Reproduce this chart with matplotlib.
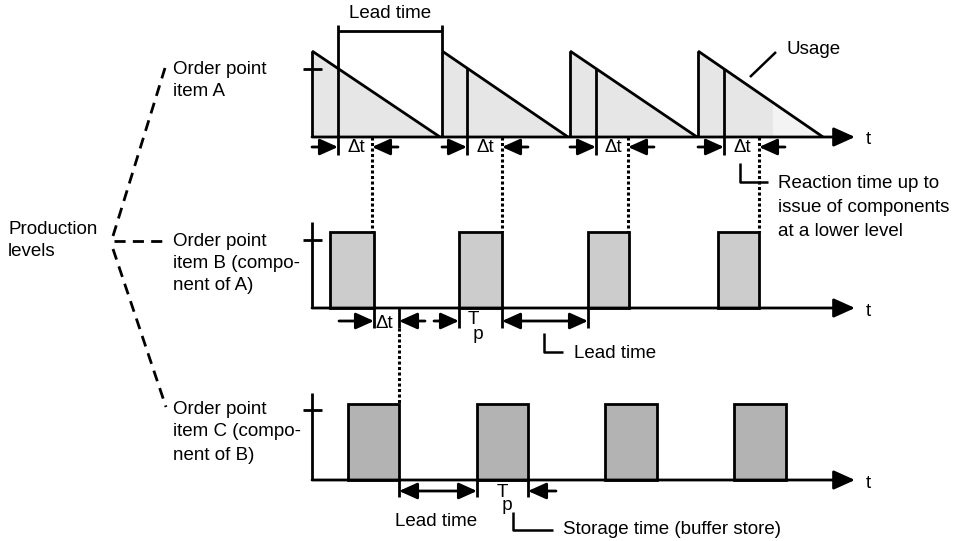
import matplotlib
matplotlib.use("Agg")
import matplotlib.pyplot as plt
from matplotlib.patches import Polygon, Rectangle

plt.rcParams['font.family'] = ['Liberation Sans', 'DejaVu Sans']

# ---- diagram values (time positions along the t axis, in drawing units) ----
A_refill = [312, 442, 570, 698]      # replenishment of item A (sawtooth peaks)
A_empty = [440, 568, 697, 823]       # stock of A reaches zero
A_order = [338, 467, 596, 724]       # order point of item A reached
A_release = [372, 502, 628, 759]     # issue of components (after reaction time)
A_fade = 773                         # last cycle fades beyond this time
B_start = [330, 459, 588, 718]       # item B production start
B_end = [374, 502, 629, 759]         # item B production end
C_start = [348, 477, 605, 734]       # item C production start
C_end = [399, 528, 657, 786]         # item C production end

level_base = [137, 308, 480]         # baselines of levels A, B, C
level_top = [51, 222, 393]           # top of vertical axis per level
order_point = [69, 240, 410]         # order point tick per level
bar_top = [232, 404]                 # top of B and C bars
axis_left = 312
axis_tip = 855

LW = 2.0
FS = 13.5
light = '#e6e6e6'
fillB = '#cccccc'
fillC = '#b3b3b3'

fig = plt.figure(figsize=(9.67, 5.41), dpi=100)
ax = fig.add_axes([0, 0, 1, 1])
ax.set_xlim(0, 967)
ax.set_ylim(541, 0)
ax.axis('off')


def line(xs, ys, **kw):
    d = dict(color='black', lw=LW, solid_capstyle='butt')
    d.update(kw)
    ax.plot(xs, ys, **d)


def arrow(x0, y0, x1, y1, style='-|>', ms=11):
    ax.annotate('', xy=(x1, y1), xytext=(x0, y0),
                arrowprops=dict(arrowstyle=style + ',head_length=1.0,head_width=0.45',
                                mutation_scale=ms, lw=LW, color='black',
                                shrinkA=0, shrinkB=0))


def text(x, y, s, **kw):
    d = dict(fontsize=FS, va='center', ha='left', color='black')
    d.update(kw)
    ax.text(x, y, s, **d)


def dotted(x, y0, y1):
    ax.plot([x, x], [y0, y1], color='black', lw=2.2, linestyle=(0, (1, 0.8)))


# ---------------- Level A (sawtooth) ----------------
base = level_base[0]
peak = level_top[0]
for i, (x0, x1) in enumerate(zip(A_refill, A_empty)):
    if i == len(A_refill) - 1:
        yf = peak + (base - peak) * (A_fade - x0) / (x1 - x0)
        ax.add_patch(Polygon([(x0, base), (x0, peak), (A_fade, yf), (A_fade, base)],
                             closed=True, facecolor=light, edgecolor='none'))
        ax.add_patch(Polygon([(A_fade, base), (A_fade, yf), (x1, base)],
                             closed=True, facecolor='#f3f3f3', edgecolor='none'))
    else:
        ax.add_patch(Polygon([(x0, base), (x0, peak), (x1, base)], closed=True,
                             facecolor=light, edgecolor='none'))
    line([x0, x0], [base, peak])
    line([x0, x1], [peak, base])
    xo = A_order[i]
    yo = peak + (base - peak) * (xo - x0) / (x1 - x0)
    top = 25 if i == 0 else yo
    line([xo, xo], [top, 155])

# lead time bracket
line([A_order[0], A_refill[1]], [31, 31])
line([A_refill[1], A_refill[1]], [25, peak])
text((A_order[0] + A_refill[1]) / 2, 13, 'Lead time', ha='center')

# axis + order point tick
line([axis_left - 9, axis_left + 10], [order_point[0], order_point[0]])
arrow(axis_left, base, axis_tip, base, ms=13)
text(866, base + 2, 't')

# Δt annotations
for i in range(4):
    arrow(A_refill[i], 147, A_order[i], 147)
    arrow(A_release[i] + 26, 147, A_release[i], 147)
    text((A_order[i] + A_release[i]) / 2 + 1, 147, 'Δt', ha='center')
    dotted(A_release[i], base, bar_top[0])

# Usage
line([750, 776], [77, 52], lw=1.8)
text(786, 50, 'Usage')

# Reaction time
line([740, 740, 768], [163, 182, 182], lw=1.8)
text(778, 183, 'Reaction time up to')
text(778, 207, 'issue of components')
text(778, 231, 'at a lower level')

# ---------------- Level B ----------------
base = level_base[1]
for x0, x1 in zip(B_start, B_end):
    ax.add_patch(Rectangle((x0, bar_top[0]), x1 - x0, base - bar_top[0],
                           facecolor=fillB, edgecolor='black', lw=LW))
line([axis_left, axis_left], [level_top[1], base])
line([axis_left - 9, axis_left + 10], [order_point[1], order_point[1]])
arrow(axis_left, base, axis_tip, base, ms=13)
text(866, base + 4, 't')

yB = 321
line([B_end[0], B_end[0]], [base, 328])
arrow(B_end[0] - 35, yB, B_end[0], yB)
text(B_end[0] + 10, 323, 'Δt', ha='center')
line([C_end[0], C_end[0]], [base, 328])
dotted(C_end[0], 328, bar_top[1])
arrow(C_end[0] + 26, yB, C_end[0], yB)
arrow(B_start[1] - 25, yB, B_start[1], yB)
line([B_start[1], B_start[1]], [base, 328])
text(468, 327, 'T\n p', linespacing=0.78)
line([B_end[1], B_end[1]], [base, 328])
line([B_start[2], B_start[2]], [base, 328])
arrow(B_end[1], yB, B_start[2], yB, style='<|-|>')
line([544, 544, 563], [333, 352, 352], lw=1.8)
text(574, 353, 'Lead time')

# ---------------- Level C ----------------
base = level_base[2]
for x0, x1 in zip(C_start, C_end):
    ax.add_patch(Rectangle((x0, bar_top[1]), x1 - x0, base - bar_top[1],
                           facecolor=fillC, edgecolor='black', lw=LW))
line([axis_left, axis_left], [level_top[2], base])
line([axis_left - 9, axis_left + 10], [order_point[2], order_point[2]])
arrow(axis_left, base, axis_tip, base, ms=13)
text(866, base + 4, 't')

yC = 491
line([C_end[0], C_end[0]], [base, 497])
line([C_start[1], C_start[1]], [base, 497])
arrow(C_end[0], yC, C_start[1], yC, style='<|-|>')
text(497, 499, 'T\n p', linespacing=0.7)
line([C_end[1], C_end[1]], [base, 497])
arrow(C_end[1] + 28, yC, C_end[1], yC)
text(436, 522, 'Lead time', ha='center')
line([513, 513, 553], [512, 530, 530], lw=1.8)
text(563, 529, 'Storage time (buffer store)')

# ---------------- Left labels ----------------
dash = (0, (4, 2.6))
line([113, 165], [236, 68], linestyle=dash)
line([114, 168], [241, 241], linestyle=dash)
line([113, 166], [249, 407], linestyle=dash)
text(8, 229, 'Production')
text(8, 252, 'levels')
text(173, 70, 'Order point')
text(173, 92, 'item A')
text(173, 241, 'Order point')
text(173, 263, 'item B (compo-')
text(173, 285, 'nent of A)')
text(173, 410, 'Order point')
text(173, 432, 'item C (compo-')
text(173, 455, 'nent of B)')

fig.savefig('out.png', dpi=100)
